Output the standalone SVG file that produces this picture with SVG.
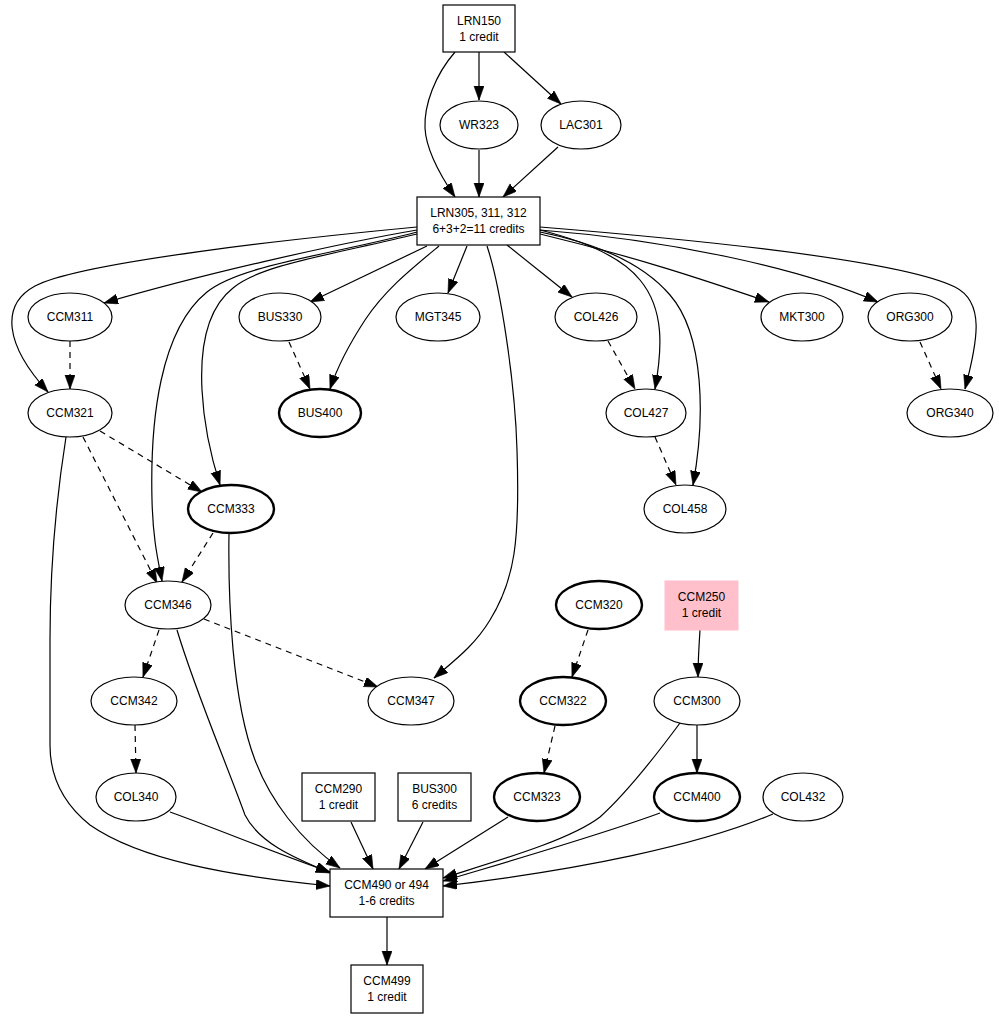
<svg xmlns="http://www.w3.org/2000/svg" width="999" height="1019" viewBox="0 0 999 1019">
<style>
text{font-family:"Liberation Sans",Arial,sans-serif;font-size:12px;text-anchor:middle;fill:#000}
.n{fill:#fff;stroke:#000;stroke-width:1.2}
.b{fill:#fff;stroke:#000;stroke-width:2.4}
.e{fill:none;stroke:#000;stroke-width:1.2;marker-end:url(#ah)}
.d{stroke-dasharray:6,5}
</style>
<defs>
<marker id="ah" markerUnits="userSpaceOnUse" markerWidth="15" markerHeight="11" refX="14" refY="5" orient="auto" viewBox="0 0 15 11">
<path d="M0,0 L14,5 L0,10 z" fill="#000" stroke="#000" stroke-width="0.6"/>
</marker>
</defs>
<rect width="999" height="1019" fill="#fff"/>
<g id="edges">
<path class="e" d="M479,52 L479,100"/>
<path class="e" d="M504,52 L561,104"/>
<path class="e" d="M455,52 C435,75 424,105 425,128 C426,150 440,175 455,197"/>
<path class="e" d="M479,150 L479,197"/>
<path class="e" d="M558,147 L503,197"/>
<path class="e" d="M417,230 C330,245 200,275 104,303"/>
<path class="e" d="M417,227 C300,238 80,262 35,286 C0,305 5,345 48,392"/>
<path class="e" d="M417,232 C330,255 240,265 207,292 C160,330 150,420 152,500 C153,540 158,560 162,581"/>
<path class="e" d="M417,234 C330,255 260,265 233,288 C205,310 200,350 202,390 C204,430 212,460 220,485"/>
<path class="e" d="M427,246 L310,302"/>
<path class="e" d="M439,246 C410,270 385,290 365,320 C350,343 338,365 330,389"/>
<path class="e" d="M467,246 L448,293"/>
<path class="e" d="M487,246 C500,285 515,380 517,450 C520,540 515,580 490,620 C475,645 455,660 434,678"/>
<path class="e" d="M507,245 L572,297"/>
<path class="e" d="M540,230 C580,240 620,255 640,280 C665,310 662,350 655,389"/>
<path class="e" d="M540,232 C590,242 640,260 670,295 C705,335 705,420 693,485"/>
<path class="e" d="M540,234 C640,258 710,282 769,302"/>
<path class="e" d="M540,230 C670,240 800,268 878,302"/>
<path class="e" d="M540,227 C700,240 900,260 955,287 C985,302 978,340 965,389"/>
<path class="e d" d="M70,341 L70,389"/>
<path class="e d" d="M289,342 L310,389"/>
<path class="e d" d="M608,341 L635,389"/>
<path class="e d" d="M655,437 L676,485"/>
<path class="e d" d="M920,342 L941,389"/>
<path class="e d" d="M100,431 L202,492"/>
<path class="e d" d="M83,437 L157,583"/>
<path class="e d" d="M213,533 L182,582"/>
<path class="e d" d="M159,630 L143,677"/>
<path class="e d" d="M204,619 L378,687"/>
<path class="e d" d="M135,725 L136,773"/>
<path class="e d" d="M588,630 L572,677"/>
<path class="e d" d="M555,726 L544,773"/>
<path class="e" d="M700,630 C699,645 698,660 698,677"/>
<path class="e" d="M697,725 L697,773"/>
<path class="e" d="M66,437 C56,500 50,570 50,640 L50,745 C50,780 65,805 90,825 C140,860 230,876 330,886"/>
<path class="e" d="M177,630 C195,690 225,760 245,815 C260,845 300,860 330,873"/>
<path class="e" d="M229,533 C228,600 232,700 255,760 C270,800 300,840 340,868"/>
<path class="e" d="M170,812 C220,830 280,855 330,872"/>
<path class="e" d="M351,822 L373,869"/>
<path class="e" d="M423,822 L399,869"/>
<path class="e" d="M508,817 L425,869"/>
<path class="e" d="M680,723 C660,750 630,790 600,817 C570,840 500,860 443,878"/>
<path class="e" d="M660,813 C600,835 520,858 443,881"/>
<path class="e" d="M773,814 C700,845 580,870 443,886"/>
<path class="e" d="M387,917 L387,965"/>
</g>
<g id="LRN150"><rect class="n" x="443" y="5" width="72" height="47"/><text x="479" y="25">LRN150</text><text x="479" y="41">1 credit</text></g>
<g id="WR323"><ellipse class="n" cx="479" cy="125" rx="39" ry="24"/><text x="479" y="129">WR323</text></g>
<g id="LAC301"><ellipse class="n" cx="581" cy="125" rx="40" ry="24"/><text x="581" y="129">LAC301</text></g>
<g id="LRN305"><rect class="n" x="417" y="197" width="123" height="48"/><text x="478.5" y="217">LRN305, 311, 312</text><text x="478.5" y="233">6+3+2=11 credits</text></g>
<g id="CCM311"><ellipse class="n" cx="70" cy="317" rx="42" ry="24"/><text x="70" y="321">CCM311</text></g>
<g id="BUS330"><ellipse class="n" cx="280" cy="317" rx="41" ry="24"/><text x="280" y="321">BUS330</text></g>
<g id="MGT345"><ellipse class="n" cx="438" cy="317" rx="42" ry="24"/><text x="438" y="321">MGT345</text></g>
<g id="COL426"><ellipse class="n" cx="596" cy="317" rx="41" ry="24"/><text x="596" y="321">COL426</text></g>
<g id="MKT300"><ellipse class="n" cx="802" cy="317" rx="41" ry="24"/><text x="802" y="321">MKT300</text></g>
<g id="ORG300"><ellipse class="n" cx="910" cy="317" rx="42" ry="24"/><text x="910" y="321">ORG300</text></g>
<g id="CCM321"><ellipse class="n" cx="70" cy="413" rx="42" ry="24"/><text x="70" y="417">CCM321</text></g>
<g id="BUS400"><ellipse class="b" cx="320" cy="413" rx="41" ry="24"/><text x="320" y="417">BUS400</text></g>
<g id="COL427"><ellipse class="n" cx="646" cy="413" rx="40" ry="24"/><text x="646" y="417">COL427</text></g>
<g id="ORG340"><ellipse class="n" cx="950" cy="413" rx="43" ry="24"/><text x="950" y="417">ORG340</text></g>
<g id="CCM333"><ellipse class="b" cx="231" cy="509" rx="43" ry="24"/><text x="231" y="513">CCM333</text></g>
<g id="COL458"><ellipse class="n" cx="685" cy="509" rx="41" ry="24"/><text x="685" y="513">COL458</text></g>
<g id="CCM346"><ellipse class="n" cx="168" cy="605" rx="43" ry="24"/><text x="168" y="609">CCM346</text></g>
<g id="CCM320"><ellipse class="b" cx="599" cy="605" rx="43" ry="24"/><text x="599" y="609">CCM320</text></g>
<g id="CCM250"><rect x="665" y="581" width="73" height="49" fill="#ffc0cb" stroke="#ffc0cb"/><text x="701.5" y="601">CCM250</text><text x="701.5" y="617">1 credit</text></g>
<g id="CCM342"><ellipse class="n" cx="134" cy="701" rx="43" ry="24"/><text x="134" y="705">CCM342</text></g>
<g id="CCM347"><ellipse class="n" cx="411" cy="701" rx="43" ry="24"/><text x="411" y="705">CCM347</text></g>
<g id="CCM322"><ellipse class="b" cx="563" cy="701" rx="43" ry="24"/><text x="563" y="705">CCM322</text></g>
<g id="CCM300"><ellipse class="n" cx="697" cy="701" rx="43" ry="24"/><text x="697" y="705">CCM300</text></g>
<g id="COL340"><ellipse class="n" cx="136" cy="797" rx="40" ry="24"/><text x="136" y="801">COL340</text></g>
<g id="CCM290"><rect class="n" x="302" y="773" width="73" height="48"/><text x="338.5" y="793">CCM290</text><text x="338.5" y="809">1 credit</text></g>
<g id="BUS300"><rect class="n" x="398" y="773" width="73" height="48"/><text x="434.5" y="793">BUS300</text><text x="434.5" y="809">6 credits</text></g>
<g id="CCM323"><ellipse class="b" cx="537" cy="797" rx="43" ry="24"/><text x="537" y="801">CCM323</text></g>
<g id="CCM400"><ellipse class="b" cx="697" cy="797" rx="43" ry="24"/><text x="697" y="801">CCM400</text></g>
<g id="COL432"><ellipse class="n" cx="803" cy="797" rx="40" ry="24"/><text x="803" y="801">COL432</text></g>
<g id="CCM490"><rect class="n" x="330" y="869" width="113" height="48"/><text x="386.5" y="889">CCM490 or 494</text><text x="386.5" y="905">1-6 credits</text></g>
<g id="CCM499"><rect class="n" x="351" y="965" width="72" height="48"/><text x="387" y="985">CCM499</text><text x="387" y="1001">1 credit</text></g>
</svg>
